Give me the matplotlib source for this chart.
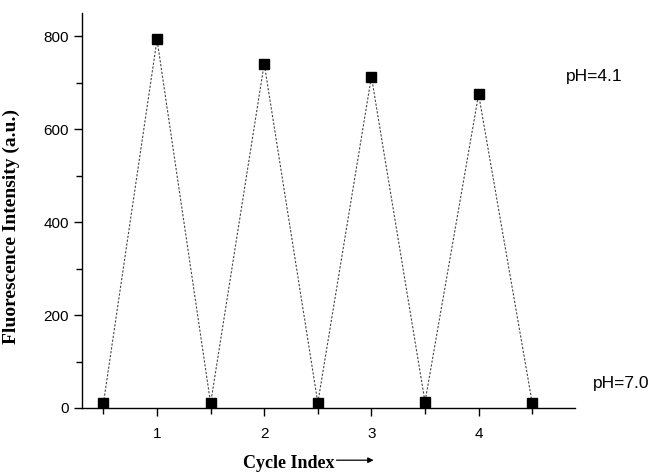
import matplotlib.pyplot as plt
import numpy as np

# Cycle positions: low (pH 7.0) at half-steps, high (pH 4.1) at integers
cycle_x = [0.5, 1, 1.5, 2, 2.5, 3, 3.5, 4, 4.5]
intensity = [10, 793, 10, 741, 11, 713, 13, 675, 11]

x_ticks = [1, 2, 3, 4]
y_ticks = [0, 200, 400, 600, 800]

fig = plt.figure(figsize=(6.58, 4.72), dpi=100)
ax = fig.add_axes([0.1246, 0.1356, 0.7494, 0.837])

ax.plot(cycle_x, intensity, color='#444444', linestyle=(0, (2, 1.5)), linewidth=0.8)
ax.plot(cycle_x, intensity, linestyle='none', marker='s', markersize=6.5, color='black')

ax.set_xlim(0.3, 4.9)
ax.set_ylim(0, 850)
ax.set_xticks(x_ticks)
ax.set_xticks(cycle_x[::2], minor=True)
ax.set_yticks(y_ticks)
ax.set_yticks([100, 300, 500, 700], minor=True)

for s in ['top', 'right']:
    ax.spines[s].set_visible(False)
for s in ['left', 'bottom']:
    ax.spines[s].set_linewidth(1.0)

ax.tick_params(which='major', direction='out', length=6, width=1, labelsize=11)
ax.tick_params(which='minor', direction='out', length=4, width=1)
for lab in ax.get_xticklabels() + ax.get_yticklabels():
    lab.set_family('Liberation Sans')
ax.tick_params(axis='x', pad=8)

ax.set_ylabel('Fluorescence Intensity (a.u.)', family='Liberation Serif',
              fontweight='bold', fontsize=14)
ax.yaxis.set_label_coords(-0.125, 0.46)

ax.text(4.81, 713, 'pH=4.1', family='Liberation Sans', fontsize=12.5,
        va='center', ha='left', clip_on=False)
ax.text(5.07, 52, 'pH=7.0', family='Liberation Sans', fontsize=12.5,
        va='center', ha='left', clip_on=False)

fig.text(0.369, 0.018, 'Cycle Index', family='Liberation Serif',
         fontweight='bold', fontsize=13, ha='left', va='center')
ax.annotate('', xy=(0.572, 0.025), xytext=(0.507, 0.025),
            xycoords='figure fraction',
            arrowprops=dict(arrowstyle='-|>', color='black', lw=0.9,
                            mutation_scale=8))

fig.savefig('out.png', dpi=100)
